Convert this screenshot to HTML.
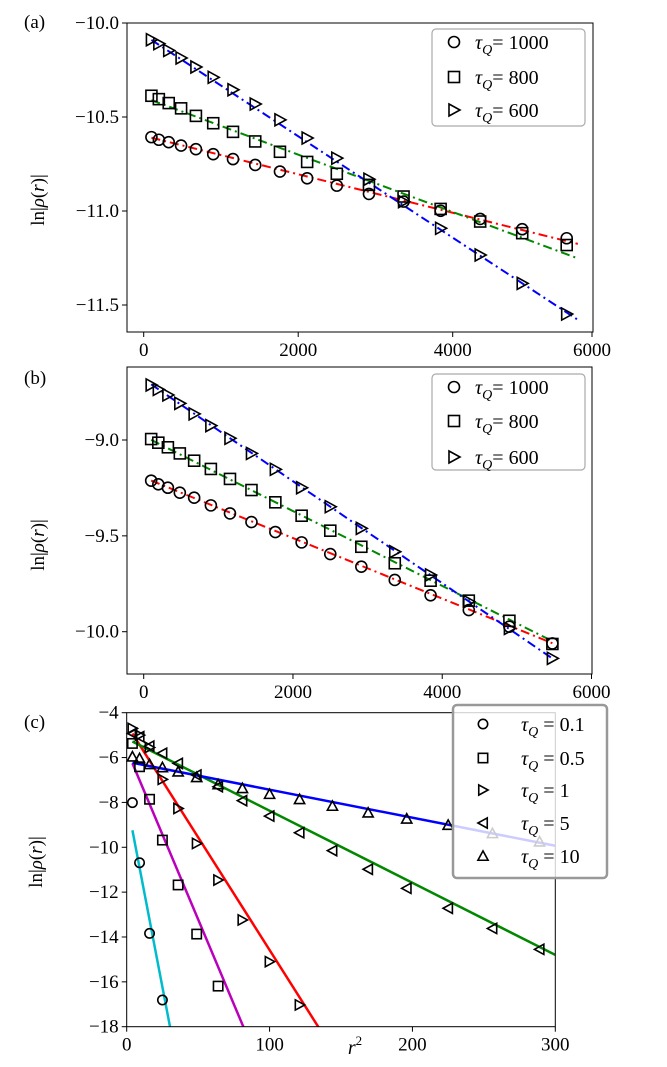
<!DOCTYPE html>
<html><head><meta charset="utf-8"><style>
html,body{margin:0;background:#fff;width:667px;height:1067px;overflow:hidden}
svg{display:block;font-family:"Liberation Serif",serif}
</style></head><body>
<svg id="fig" width="667" height="1067" viewBox="0 0 667 1067" xmlns="http://www.w3.org/2000/svg"></svg>
<script>
// ---- data ----
const rsq = [100,196,324,484,676,900,1156,1444,1764,2116,2500,2916,3364,3844,4356,4900,5476];
const aTau1000 = [-10.607,-10.621,-10.634,-10.652,-10.671,-10.698,-10.724,-10.755,-10.790,-10.826,-10.865,-10.909,-10.950,-10.999,-11.042,-11.097,-11.145];
const aTau800 = [-10.387,-10.405,-10.426,-10.454,-10.494,-10.533,-10.579,-10.630,-10.685,-10.739,-10.802,-10.861,-10.923,-10.989,-11.056,-11.118,-11.181];
const aTau600 = [-10.089,-10.110,-10.146,-10.186,-10.234,-10.289,-10.355,-10.431,-10.515,-10.612,-10.719,-10.831,-10.950,-11.092,-11.234,-11.385,-11.548];
const aFitSlope = [-1.023e-4,-1.525e-4,-2.697e-4];
const aFitIntercept = [-10.600,-10.395,-10.063];
const bTau1000 = [-9.212,-9.231,-9.249,-9.275,-9.301,-9.341,-9.383,-9.428,-9.480,-9.534,-9.595,-9.661,-9.730,-9.810,-9.887,-9.974,-10.061];
const bTau800 = [-8.995,-9.014,-9.038,-9.070,-9.108,-9.151,-9.203,-9.261,-9.325,-9.395,-9.473,-9.557,-9.643,-9.734,-9.838,-9.943,-10.064];
const bTau600 = [-8.713,-8.736,-8.765,-8.809,-8.864,-8.925,-8.991,-9.070,-9.153,-9.249,-9.348,-9.461,-9.583,-9.704,-9.843,-9.983,-10.139];
const bFitSlope = [-1.578e-4,-1.953e-4,-2.66e-4];
const bFitIntercept = [-9.196,-8.980,-8.683];
const abXTicks = [0,2000,4000,6000];
const aYTicks = [-10.0,-10.5,-11.0,-11.5];
const bYTicks = [-9.0,-9.5,-10.0];
const abLegend = ["1000","800","600"];
const cX01 = [4,9,16,25];
const cY01 = [-8.01,-10.69,-13.84,-16.81];
const cX05 = [4,9,16,25,36,49,64];
const cY05 = [-5.37,-6.41,-7.86,-9.68,-11.68,-13.87,-16.19];
const cX1 = [4,9,16,25,36,49,64,81,100,121];
const cY1 = [-4.70,-5.00,-5.55,-6.97,-8.27,-9.83,-11.46,-13.24,-15.10,-17.03];
const cX5 = [4,9,16,25,36,49,64,81,100,121,144,169,196,225,256,289];
const cY5 = [-4.92,-5.07,-5.49,-5.81,-6.26,-6.78,-7.30,-7.92,-8.61,-9.35,-10.15,-10.98,-11.83,-12.72,-13.62,-14.55];
const cX10 = [4,9,16,25,36,49,64,81,100,121,144,169,196,225,256,289];
const cY10 = [-5.96,-6.04,-6.30,-6.44,-6.63,-6.88,-7.20,-7.37,-7.63,-7.86,-8.16,-8.46,-8.73,-9.01,-9.38,-9.75];
const cFitSlope = [-0.333,-0.1513,-0.1005,-0.03215,-0.01251];
const cFitIntercept = [-7.91,-5.65,-4.53,-5.155,-6.18];
const cLegend = ["0.1","0.5","1","5","10"];
const cXTicks = [0,100,200,300];
const cYTicks = [-4,-6,-8,-10,-12,-14,-16,-18];

const NS="http://www.w3.org/2000/svg";
const svg=document.getElementById('fig');
function el(tag,attrs,parent){const e=document.createElementNS(NS,tag);for(const k in attrs)e.setAttribute(k,attrs[k]);(parent||svg).appendChild(e);return e;}
function txt(s,x,y,anchor,size,parent){const t=el('text',{x:x,y:y,'text-anchor':anchor||'middle','font-size':size||19},parent);t.textContent=s;return t;}

function marker(kind,cx,cy,parent,k){
  k=k||1;
  const st={fill:'none',stroke:'#000','stroke-width':1.6};
  let m;
  if(kind==='o'){m=el('circle',Object.assign({cx:cx,cy:cy,r:5.5*k},st),parent);}
  else if(kind==='s'){m=el('rect',Object.assign({x:cx-5.5*k,y:cy-5.5*k,width:11*k,height:11*k},st),parent);}
  else if(kind==='>'){m=el('polygon',Object.assign({points:`${cx-5*k},${cy-6*k} ${cx+6*k},${cy} ${cx-5*k},${cy+6*k}`},st),parent);}
  else if(kind==='<'){m=el('polygon',Object.assign({points:`${cx+5*k},${cy-6*k} ${cx-6*k},${cy} ${cx+5*k},${cy+6*k}`},st),parent);}
  else {m=el('polygon',Object.assign({points:`${cx-6*k},${cy+5*k} ${cx},${cy-6*k} ${cx+6*k},${cy+5*k}`},st),parent);}
  
  
  return m;
}

function panel(cfg){
  const g=el('g',{});
  
  
  const X=v=>cfg.x0px+(v-cfg.xmin)*(cfg.x1px-cfg.x0px)/(cfg.xmax-cfg.xmin);
  const Y=v=>cfg.y0px+(v-cfg.ymin)*(cfg.y1px-cfg.y0px)/(cfg.ymax-cfg.ymin);
  const clipId='clip'+cfg.name;
  const cp=el('clipPath',{id:clipId},g);
  el('rect',{x:cfg.L,y:cfg.T,width:cfg.R-cfg.L,height:cfg.B-cfg.T},cp);
  const plot=el('g',{'clip-path':`url(#${clipId})`},g);
  cfg.fits.forEach((f,i)=>{
    const xa=cfg.fitX0, xb=cfg.fitX1;
    const ln=el('line',{x1:X(xa),y1:Y(cfg.fitInt[i]+cfg.fitSlope[i]*xa),x2:X(xb),y2:Y(cfg.fitInt[i]+cfg.fitSlope[i]*xb),stroke:f,'stroke-width':cfg.lw,'stroke-dasharray':cfg.dash||'none'},plot);
    
    
  });
  cfg.series.forEach(s=>{
    s.xs.forEach((xv,j)=>{marker(s.m,X(xv),Y(s.ys[j]),g,cfg.mk);});
  });
  const box=el('rect',{x:cfg.L,y:cfg.T,width:cfg.R-cfg.L,height:cfg.B-cfg.T,fill:'none',stroke:'#000','stroke-width':1},g);
  
  
  cfg.xticks.forEach((v,i)=>{
    const px=cfg.xtickPx?cfg.xtickPx(v):X(v);
    el('line',{x1:px,y1:cfg.B,x2:px,y2:cfg.B+5,stroke:'#000'},g);
    const t=txt(String(v),px,cfg.B+24,'middle',19,g);
    
    
  });
  cfg.yticks.forEach(v=>{
    const py=Y(v);
    el('line',{x1:cfg.L-5,y1:py,x2:cfg.L,y2:py,stroke:'#000'},g);
    const s=(v<0?'\u2212':'')+Math.abs(v).toFixed(cfg.ydec);
    const t=txt(s,cfg.L-8,py+6,'end',19,g);
    
    
  });
  const yl=txt('',0,0,'middle',19,g);
  yl.setAttribute('transform',`translate(${cfg.ylabX},${cfg.ylabY}) rotate(-90)`);
  
  
  const p1=el('tspan',{},yl);p1.textContent='ln|';
  const p2=el('tspan',{'font-style':'italic'},yl);p2.textContent='\u03C1';
  const p3=el('tspan',{},yl);p3.textContent='(';
  const p4=el('tspan',{'font-style':'italic'},yl);p4.textContent='r';
  const p5=el('tspan',{},yl);p5.textContent=')|';
  const pl=txt(cfg.tag,cfg.tagX,cfg.tagY,'start',19,g);
  
  
  const lg=el('g',{},g);
  
  
  el('rect',{x:cfg.leg.x,y:cfg.leg.y,width:cfg.leg.w,height:cfg.leg.h,rx:4,fill:'#fff','fill-opacity':0.8,stroke:cfg.leg.stroke,'stroke-width':cfg.leg.sw},lg);
  cfg.series.forEach((s,i)=>{
    const ry=cfg.leg.rows[i];
    marker(s.m,cfg.leg.mx,ry,lg,cfg.mk);
    const t=el('text',{x:cfg.leg.tx,y:ry+7,'font-size':cfg.leg.fs},lg);
    
    
    const a=el('tspan',{'font-style':'italic'},t);a.textContent='\u03C4';
    const b=el('tspan',{'font-style':'italic','font-size':cfg.leg.fs*0.7,dy:5},t);b.textContent='Q';
    const c=el('tspan',{dy:-5},t);c.textContent=cfg.leg.sep+cfg.leg.labels[i];
  });
  return {g,X,Y};
}

panel({name:'panel-a',L:127,R:593,T:23,B:332,xmin:0,xmax:5476,x0px:143.7,x1px:566.7,ymin:-10.0,ymax:-11.5,y0px:23,y1px:305,
  xtickPx:v=>v===6000?592:143.7+v*0.07725,
  fits:['#f00','#080','#00f'],fitSlope:aFitSlope,fitInt:aFitIntercept,fitX0:100,fitX1:5620,lw:2,dash:'9,4,2,4',mk:1,
  series:[{m:'o',xs:rsq,ys:aTau1000},{m:'s',xs:rsq,ys:aTau800},{m:'>',xs:rsq,ys:aTau600}],
  xticks:abXTicks,yticks:aYTicks,ydec:1,ylabX:44,ylabY:200,tag:'(a)',tagX:24,tagY:28,
  leg:{x:432,y:29,w:153,h:97,rows:[42,77,110],mx:454,tx:475,fs:20,labels:abLegend,sep:'= ',stroke:'#aaa',sw:1.2}});

panel({name:'panel-b',L:127,R:592,T:367,B:674,xmin:0,xmax:6000,x0px:143.7,x1px:591.5,ymin:-9.0,ymax:-10.0,y0px:440,y1px:631.7,
  fits:['#f00','#080','#00f'],fitSlope:bFitSlope,fitInt:bFitIntercept,fitX0:100,fitX1:5476,lw:2,dash:'9,4,2,4',mk:1,
  series:[{m:'o',xs:rsq,ys:bTau1000},{m:'s',xs:rsq,ys:bTau800},{m:'>',xs:rsq,ys:bTau600}],
  xticks:abXTicks,yticks:bYTicks,ydec:1,ylabX:44,ylabY:545,tag:'(b)',tagX:24,tagY:384,
  leg:{x:432,y:374,w:153,h:96,rows:[387,421,457],mx:454,tx:475,fs:20,labels:abLegend,sep:'= ',stroke:'#aaa',sw:1.2}});

panel({name:'panel-c',L:126.7,R:555.3,T:712.7,B:1026.7,xmin:0,xmax:300,x0px:126.7,x1px:555.3,ymin:-4,ymax:-18,y0px:712.7,y1px:1026.7,
  fits:['#0bc','#b0b','#f00','#080','#00f'],fitSlope:cFitSlope,fitInt:cFitIntercept,fitX0:4,fitX1:300,lw:2.5,mk:0.85,
  series:[{m:'o',xs:cX01,ys:cY01},{m:'s',xs:cX05,ys:cY05},{m:'>',xs:cX1,ys:cY1},{m:'<',xs:cX5,ys:cY5},{m:'^',xs:cX10,ys:cY10}],
  xticks:cXTicks,yticks:cYTicks,ydec:0,ylabX:42,ylabY:862,tag:'(c)',tagX:24,tagY:728,
  leg:{x:453,y:705,w:154,h:173,rows:[724,758,790,823,856],mx:483,tx:521,fs:20,labels:cLegend,sep:' = ',stroke:'#999',sw:2.5}});

const xl=txt('',355,1054,'middle',20);


const r1=el('tspan',{'font-style':'italic'},xl);r1.textContent='r';
const r2=el('tspan',{'font-size':13,dy:-9},xl);r2.textContent='2';
</script>
</body></html>
